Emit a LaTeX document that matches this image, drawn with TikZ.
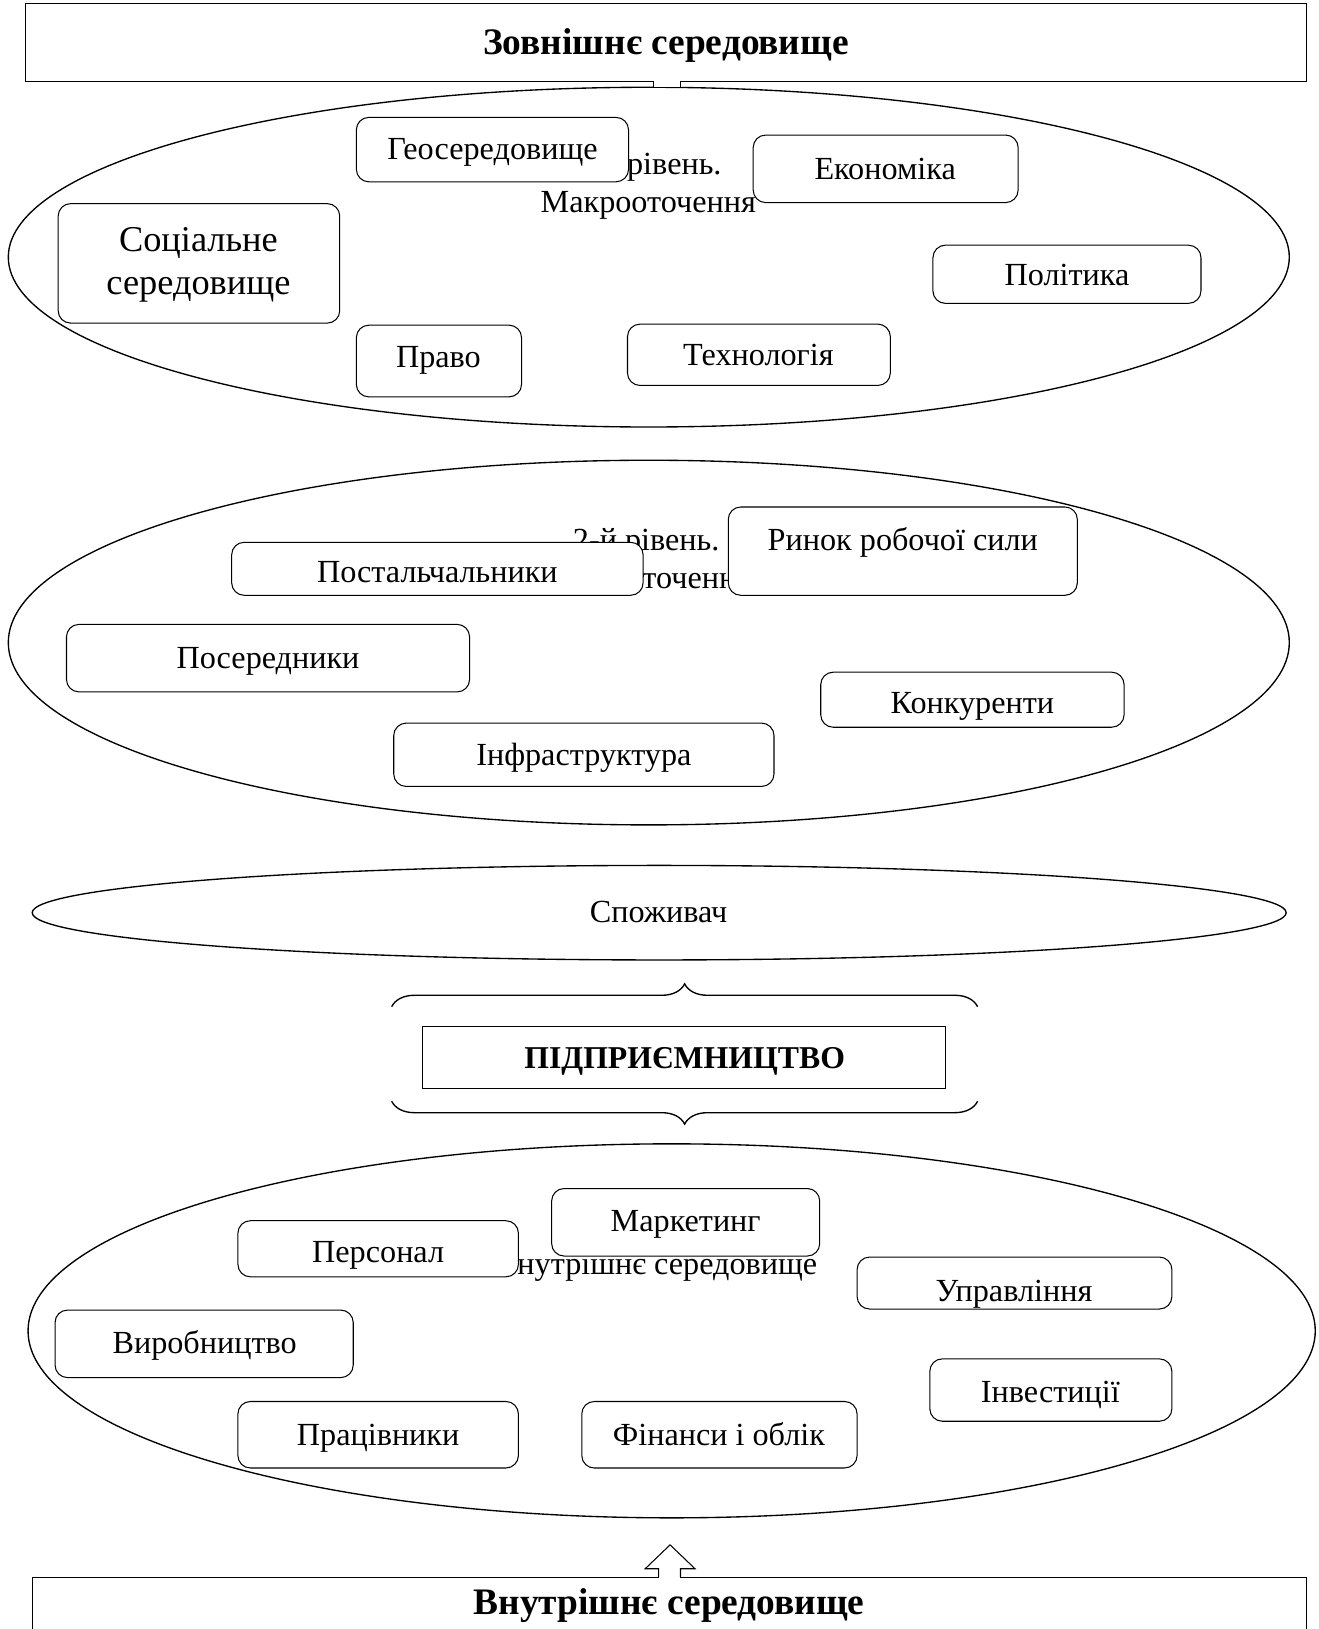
\documentclass[tikz,border=0pt]{standalone}
\usepackage{fontspec}
\setmainfont{Liberation Serif}
\usetikzlibrary{shapes.geometric,decorations.pathreplacing}
\tikzset{
 rbox/.style={draw, fill=white, rounded corners=12pt, line width=1pt, inner sep=0pt},
 sbox/.style={draw, fill=white, line width=1pt, inner sep=0pt},
 ell/.style={draw, ellipse, line width=1.3pt, inner sep=0pt},
 txt/.style={inner sep=0pt, font=\fontsize{31}{36}\selectfont, text height=20pt, text depth=0pt},
 mtxt/.style={inner sep=0pt, font=\fontsize{31}{36}\selectfont, align=center},
 btxt/.style={inner sep=0pt, font=\fontsize{36}{40}\selectfont\bfseries, text height=22pt, text depth=0pt},
 bracestyle/.style={decorate, decoration={brace, amplitude=22pt, aspect=0.5}, line width=1.3pt},
}
\newcommand\rbx[8]{%
 \node[rbox, minimum width={(#4)-(#2)}, minimum height={(#5)-(#3)}] (#1) at ({((#2)+(#4))/2},{((#3)+(#5))/2}) {};
 \node[txt] (#1t) at (#7,#8) {#6};}
\begin{document}
\begin{tikzpicture}[x=1pt,y=-1pt]
\useasboundingbox (0,0) rectangle (1269,1568);
% top box
\node[sbox, minimum width=1233, minimum height=75] (top) at (641.5,40.5) {};
\node[btxt] (topt) at (641,41) {Зовнішнє середовище};
% ellipse 1
\node[ell, minimum width=1233, minimum height=327] (e1) at (624.5,247.5) {};
\fill[white] (629.5,76) rectangle (654.5,84);
\draw[line width=1pt] (629,78) -- (629,85);
\draw[line width=1pt] (655,78) -- (655,85);
\node[mtxt] (e1t) at (624,179) {1-й рівень.\\Макрооточення};
\rbx{geo}{343}{113}{605}{175}{Геосередовище}{474}{144}
\rbx{eko}{725}{130}{980}{195}{Економіка}{852}{163}
\node[rbox, minimum width=271, minimum height=115] (soc) at (191.5,253.5) {};
\node[inner sep=0pt, font=\fontsize{35}{42}\selectfont, align=center] (soct) at (191,255) {Соціальне\\середовище};
\rbx{pol}{898}{236}{1156}{292}{Політика}{1027}{265}
\rbx{prv}{343}{313}{502}{382}{Право}{422}{344}
\rbx{teh}{604}{312}{857}{371}{Технологія}{730}{342}
% ellipse 2
\node[ell, minimum width=1233, minimum height=351] (e2) at (624.5,618.5) {};
\node[mtxt] (e2t) at (622,541) {2-й рівень.\\Мікрооточення};
\rbx{rin}{701}{488}{1037}{573}{Ринок робочої сили}{869}{520}
\rbx{pos}{223}{522}{619}{573}{Постальчальники}{421}{551}
\rbx{pse}{64}{601}{452}{666}{Посередники}{258}{633}
\rbx{kon}{790}{647}{1082}{700}{Конкуренти}{936}{677}
\rbx{inf}{379}{696}{745}{757}{Інфраструктура}{562}{727}
% ellipse 3
\node[ell, minimum width=1207, minimum height=91] (e3) at (634.5,878.5) {};
\node[txt] (e3t) at (634,878) {Споживач};
% braces and enterprise
\coordinate (b1l) at (377,969);
\coordinate (b1r) at (941,969);
\coordinate (b2l) at (377,1060);
\coordinate (b2r) at (941,1060);
\draw[bracestyle] (b1l) -- (b1r);
\draw[bracestyle] (b2r) -- (b2l);
\node[sbox, minimum width=503, minimum height=60] (ent) at (658.5,1018) {};
\node[btxt, font=\fontsize{30.6}{35}\selectfont\bfseries] (entt) at (659,1017) {ПІДПРИЄМНИЦТВО};
% ellipse 4
\node[ell, minimum width=1239, minimum height=360] (e4) at (646.5,1281) {};
\node[txt] (e4t) at (632,1217) {Внутрішнє середовище};
\rbx{mar}{531}{1144}{789}{1209}{Маркетинг}{660}{1175}
\rbx{per}{229}{1175}{499}{1229}{Персонал}{364}{1205}
\node[rbox, minimum width=303, minimum height=50] (upr) at (976.5,1235) {};
\begin{scope}
\clip[rounded corners=12pt] (825.5,1210.5) rectangle (1127.5,1259.5);
\node[txt] (uprt) at (976,1243) {Управління};
\end{scope}
\rbx{vyr}{53}{1261}{340}{1326}{Виробництво}{197}{1293}
\rbx{inv}{895}{1308}{1128}{1368}{Інвестиції}{1011}{1340}
\rbx{prc}{229}{1349}{499}{1413}{Працівники}{364}{1381}
\rbx{fin}{560}{1349}{825}{1413}{Фінанси і облік}{692}{1381}
% bottom arrow and box
\draw[line width=1pt, fill=white] (634,1518) -- (634,1510) -- (621,1510) -- (645,1487) -- (669,1510) -- (655,1510) -- (655,1518);
\draw[line width=1pt] (31,1590) -- (31,1518) -- (634,1518);
\draw[line width=1pt] (655,1518) -- (1258,1518) -- (1258,1590);
\node[btxt] (bott) at (644,1543) {Внутрішнє середовище};
\end{tikzpicture}
\end{document}
